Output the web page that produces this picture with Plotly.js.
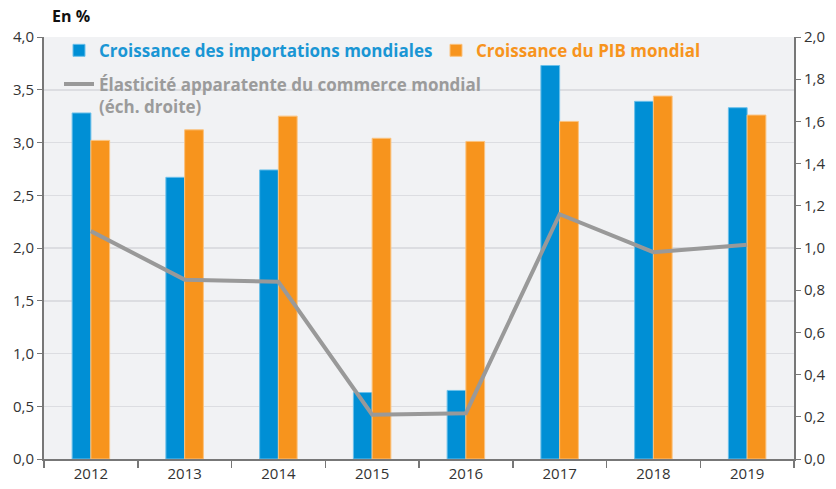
<!DOCTYPE html>
<html>
<head>
<meta charset="utf-8">
<script src="https://cdn.plot.ly/plotly-3.0.1.min.js"></script>
<style>html,body{margin:0;padding:0;background:#fff;}#chart{width:836px;height:489px;}</style>
</head>
<body>
<div id="chart"></div>
<script>
const years = ["2012","2013","2014","2015","2016","2017","2018","2019"];
const importGrowth = [3.28, 2.67, 2.74, 0.63, 0.65, 3.73, 3.39, 3.33];
const gdpGrowth = [3.02, 3.12, 3.25, 3.04, 3.01, 3.20, 3.44, 3.26];
const elasticity = [1.08, 0.85, 0.84, 0.21, 0.217, 1.16, 0.98, 1.015];

const FONT = "Open Sans, Noto Sans, sans-serif";

const traces = [
  {
    type: "bar", x: years, y: importGrowth,
    name: '<span style="color:#1a96d4">Croissance des importations mondiales</span>',
    marker: {color: "#008fd5", line: {color: "#6cc0ea", width: 1}},
    legend: "legend", hoverinfo: "skip"
  },
  {
    type: "bar", x: years, y: gdpGrowth,
    name: '<span style="color:#f7941d">Croissance du PIB mondial</span>',
    marker: {color: "#f7941d", line: {color: "#fbc27e", width: 1}},
    legend: "legend", hoverinfo: "skip"
  },
  {
    type: "scatter", mode: "lines", x: years, y: elasticity, yaxis: "y2",
    name: '<span style="color:#9b9b9b">Élasticité apparatente du commerce mondial<br>(éch. droite)</span>',
    line: {color: "#999999", width: 4},
    legend: "legend2", hoverinfo: "skip"
  }
];

const layout = {
  width: 836, height: 489,
  margin: {l: 44, r: 42, t: 37, b: 30},
  paper_bgcolor: "#ffffff",
  plot_bgcolor: "#f1f2f4",
  separators: ", ",
  font: {family: FONT, size: 15, color: "#333333"},
  barmode: "group",
  bargap: 0.6,
  bargroupgap: 0,
  showlegend: true,
  xaxis: {
    type: "category",
    tickson: "boundaries",
    ticks: "outside", ticklen: 7, tickwidth: 1.5, tickcolor: "#777777",
    showline: true, linecolor: "#777777", linewidth: 2,
    showgrid: false,
    tickfont: {family: FONT, size: 15, color: "#333333"}
  },
  yaxis: {
    range: [0, 4], dtick: 0.5, tickformat: ".1f",
    ticks: "outside", ticklen: 5, tickcolor: "#777777",
    showline: true, linecolor: "#777777", linewidth: 2,
    gridcolor: "#dcdde1", gridwidth: 1.5,
    zeroline: false,
    tickfont: {family: FONT, size: 15, color: "#333333"}
  },
  yaxis2: {
    overlaying: "y", side: "right",
    range: [0, 2], dtick: 0.2, tickformat: ".1f",
    ticks: "outside", ticklen: 5, tickcolor: "#777777",
    showline: true, linecolor: "#777777", linewidth: 2,
    showgrid: false, zeroline: false,
    tickfont: {family: FONT, size: 15, color: "#333333"}
  },
  legend: {
    orientation: "h",
    x: 0.02, y: 1.01, xanchor: "left", yanchor: "top",
    bgcolor: "rgba(0,0,0,0)",
    entrywidth: 332, entrywidthmode: "pixels",
    itemwidth: 30,
    font: {family: FONT, size: 17, weight: "bold"}
  },
  legend2: {
    orientation: "v",
    x: 0.02, y: 0.93, xanchor: "left", yanchor: "top",
    bgcolor: "rgba(0,0,0,0)",
    valign: "top",
    itemwidth: 30,
    font: {family: FONT, size: 17, weight: "bold"}
  },
  annotations: [
    {
      text: "<b>En %</b>", xref: "paper", yref: "paper",
      x: 0.008, y: 1, xanchor: "left", yanchor: "bottom", yshift: 8,
      showarrow: false, font: {family: FONT, size: 16, color: "#111111"}
    }
  ]
};

Plotly.newPlot("chart", traces, layout, {displayModeBar: false, staticPlot: true});
</script>
</body>
</html>
